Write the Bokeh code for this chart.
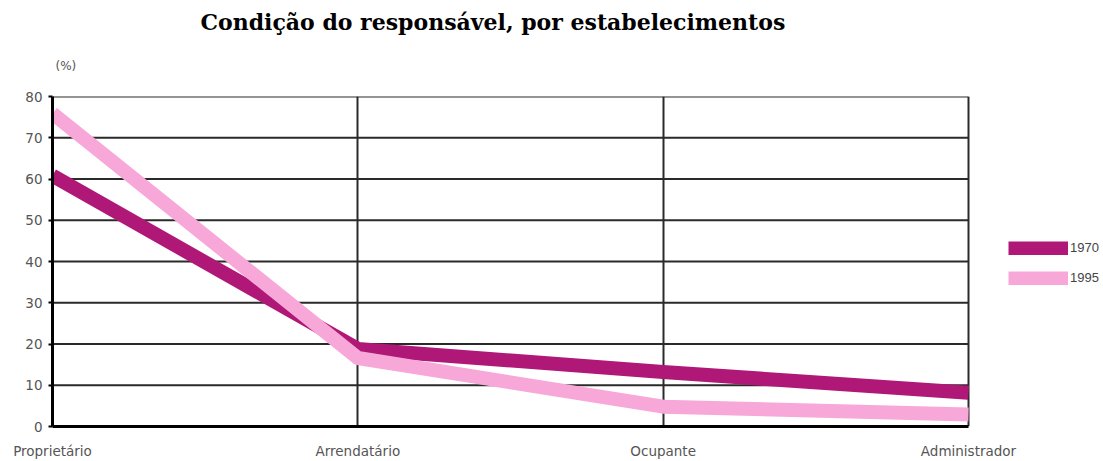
from bokeh.plotting import figure
from bokeh.models import Range1d, FixedTicker, Legend, LegendItem, Title
from bokeh.embed import file_html
from bokeh.resources import INLINE

categories = ["Proprietário", "Arrendatário", "Ocupante", "Administrador"]
y_ticks = [0, 10, 20, 30, 40, 50, 60, 70, 80]
s1970 = [60.8, 18.8, 13.2, 8.2]
s1995 = [75.9, 16.6, 4.8, 2.9]
series_names = ["1970", "1995"]
colors = ["#B01877", "#F7A8D8"]

xs = list(range(len(categories)))
x_last = xs[-1]

W, H = 1103, 461
left, right_px, top, bottom_px = 52, 968, 96, 428
x_end = x_last * (W - left) / (right_px - left)

p = figure(width=W, height=H, output_backend="svg", toolbar_location=None,
           x_range=Range1d(0, x_end), y_range=Range1d(0, 80),
           min_border_left=left, min_border_right=0, min_border_top=top,
           min_border_bottom=H - bottom_px)

p.title.text = "Condição do responsável, por estabelecimentos"
p.title.text_font = "DejaVu Serif"
p.title.text_font_style = "bold"
p.title.text_font_size = "22px"
p.title.text_color = "black"
p.title.align = "left"
p.title.offset = 148
p.title.standoff = -4

p.add_layout(Title(text="(%)", align="left", offset=3, standoff=48,
                   text_font="DejaVu Sans", text_font_size="12px",
                   text_font_style="normal", text_color="#555555"), "above")

p.outline_line_color = None
p.background_fill_color = "white"
p.border_fill_color = "white"

# axes
p.xaxis.ticker = FixedTicker(ticks=xs)
p.xaxis.bounds = (0, x_last)
p.xaxis.major_label_overrides = {i: c for i, c in enumerate(categories)}
p.yaxis.ticker = FixedTicker(ticks=y_ticks)
for ax in (p.xaxis, p.yaxis):
    ax.axis_line_color = "black"
    ax.axis_line_width = 3
    ax.major_tick_line_color = "black"
    ax.major_tick_line_width = 2
    ax.minor_tick_line_color = None
    ax.major_label_text_font = "DejaVu Sans"
    ax.major_label_text_font_size = "13.5px"
    ax.major_label_text_color = "#555555"
p.xaxis.major_tick_out = 0
p.xaxis.major_tick_in = 0
p.yaxis.major_tick_out = 4
p.yaxis.major_tick_in = 0
p.yaxis.major_label_standoff = 6
p.xaxis.major_label_standoff = 16

# grid: vertical lines at categories, horizontal lines only across the category span
p.ygrid.grid_line_color = None
p.xgrid.ticker = FixedTicker(ticks=xs[1:])
p.xgrid.grid_line_color = "#2a2a2a"
p.xgrid.grid_line_width = 2
gy = y_ticks[1:]
p.segment(x0=[0] * len(gy), x1=[x_last] * len(gy), y0=gy, y1=gy,
          line_color="#2a2a2a", line_width=2)

r1 = p.line(xs, s1970, line_color=colors[0], line_width=14, line_join="round")
r2 = p.line(xs, s1995, line_color=colors[1], line_width=14, line_join="round")

legend = Legend(items=[LegendItem(label=series_names[0], renderers=[r1]),
                       LegendItem(label=series_names[1], renderers=[r2])],
                location=(1008 - left, bottom_px - 287))
legend.glyph_width = 60
legend.glyph_height = 14
legend.spacing = 15
legend.padding = 0
legend.margin = 0
legend.label_standoff = 2
legend.label_text_font = "Liberation Sans"
legend.label_text_font_size = "13px"
legend.label_text_color = "#444444"
legend.border_line_color = None
legend.background_fill_alpha = 0
p.add_layout(legend, "center")

open("out.html", "w").write(file_html(p, INLINE))
